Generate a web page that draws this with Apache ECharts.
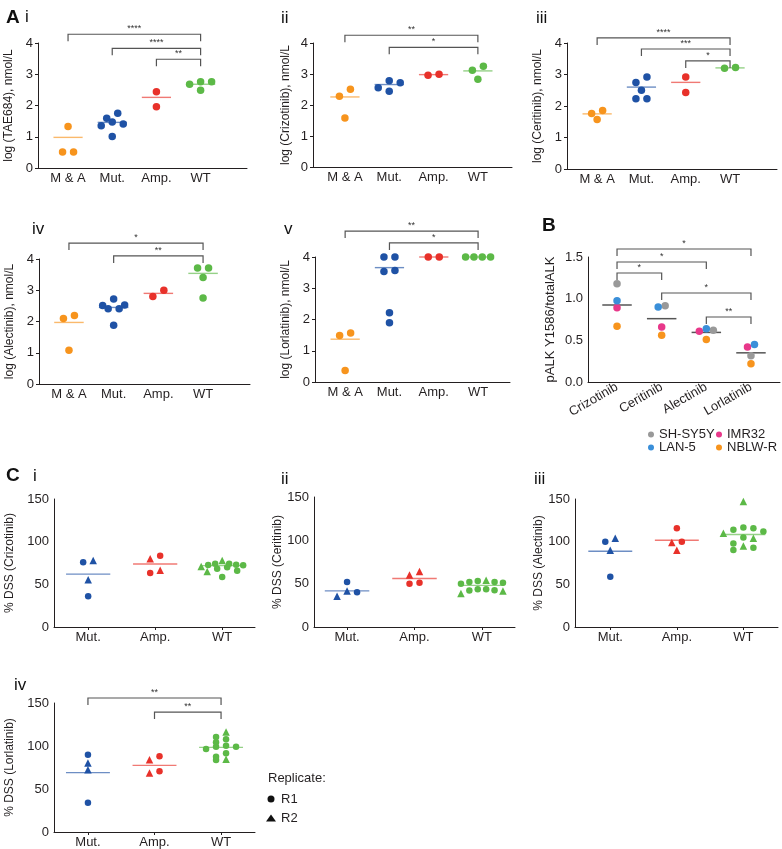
<!DOCTYPE html>
<html>
<head>
<meta charset="utf-8">
<script src="https://cdn.jsdelivr.net/npm/echarts@6/dist/echarts.min.js"></script>
<style>
html, body { margin: 0; padding: 0; background: #fff; }
#chart { width: 782px; height: 849px; }
</style>
</head>
<body>
<div id="chart"></div>
<script>
// ---- data: panel A (log IC50 per ALK status group) ----
const groupsA = ['M & A', 'Mut.', 'Amp.', 'WT']
const colorsA = ['#f7941d', '#1f52a5', '#e8312a', '#5cb947']

const tae684 = [[1.33, 0.51, 0.51], [1.75, 1.59, 1.47, 1.41, 1.35, 1.01], [2.44, 1.96], [2.76, 2.68, 2.76, 2.49]]
const tae684Mid = [0.98, 1.46, 2.26, 2.68]
const tae684Sig = [[0, 3, 4.28, '****'], [1, 3, 3.83, '****'], [2, 3, 3.48, '**']]

const crizotinibA = [[2.51, 2.28, 1.58], [2.72, 2.78, 2.44, 2.56], [2.96, 2.99], [3.25, 3.12, 2.83]]
const crizotinibAMid = [2.26, 2.66, 2.98, 3.10]
const crizotinibASig = [[0, 3, 4.25, '**'], [1, 3, 3.86, '*']]

const ceritinibA = [[1.86, 1.76, 1.57], [2.92, 2.75, 2.50, 2.23, 2.23], [2.92, 2.43], [3.20, 3.22]]
const ceritinibAMid = [1.75, 2.60, 2.75, 3.21]
const ceritinibASig = [[0, 3, 4.16, '****'], [1, 3, 3.81, '***'], [2, 3, 3.43, '*']]

const alectinibA = [[2.19, 2.10, 1.08], [2.72, 2.53, 2.41, 2.51, 2.41, 1.88], [3.0, 2.8], [3.71, 3.71, 3.41, 2.75]]
const alectinibAMid = [1.97, 2.45, 2.90, 3.54]
const alectinibASig = [[0, 3, 4.51, '*'], [1, 3, 4.10, '**']]

const lorlatinibA = [[1.57, 1.49, 0.37], [4.0, 4.0, 3.54, 3.57, 2.22, 1.90], [4.0, 4.0], [4.0, 4.0, 4.0, 4.0]]
const lorlatinibAMid = [1.37, 3.66, 4.0, 4.0]
const lorlatinibASig = [[0, 3, 4.83, '**'], [1, 3, 4.45, '*']]

// ---- data: panel B (pALK / total ALK per drug) ----
const drugsB = ['Crizotinib', 'Ceritinib', 'Alectinib', 'Lorlatinib']
const cellLines = ['SH-SY5Y', 'IMR32', 'LAN-5', 'NBLW-R']
const cellColors = ['#999999', '#e8388a', '#3a8fd9', '#f7941d']
const pALK_SHSY5Y = [1.18, 0.915, 0.62, 0.315]
const pALK_IMR32 = [0.89, 0.66, 0.61, 0.42]
const pALK_LAN5 = [0.975, 0.90, 0.64, 0.45]
const pALK_NBLWR = [0.67, 0.56, 0.51, 0.22]
const pALKMid = [0.924, 0.76, 0.595, 0.35]
const pALKSig = [[0, 3, 1.596, '*'], [0, 2, 1.44, '*'], [0, 1, 1.308, '*'], [1, 3, 1.068, '*'], [2, 3, 0.78, '**']]

// ---- data: panel C (% DSS, replicate R1 / R2) ----
const groupsC = ['Mut.', 'Amp.', 'WT']
const colorsC = ['#1f52a5', '#e8312a', '#5cb947']

const dssCrizR1 = [[76, 36], [83.6, 63.3], [72.3, 73, 70, 74, 74, 72.7, 66, 68.4, 58.6]]
const dssCrizR2 = [[78, 55.5], [80, 66.4], [71, 78, 65]]
const dssCrizMid = [62, 73.8, 71.9]

const dssCeriR1 = [[51.8, 40.2], [50, 51], [51.8, 53, 51, 52, 49.9, 42, 43.7, 43.7, 42.5]]
const dssCeriR2 = [[35.6, 41.4], [60, 64], [54, 41.4, 38.7]]
const dssCeriMid = [41.7, 56, 48]

const dssAlecR1 = [[100, 59], [115.8, 100], [113.9, 112, 115.8, 116.6, 104.8, 97.8, 90.3, 93]]
const dssAlecR2 = [[104, 90], [99, 90], [147, 110, 104, 95]]
const dssAlecMid = [88.7, 101.7, 108.4]

const dssLorlR1 = [[89.9, 34.1], [88, 70.5], [107.8, 110.5, 99.2, 99.2, 100.4, 104.3, 91.5, 96.5, 83.7, 87.6]]
const dssLorlR2 = [[80.2, 72.5], [84, 68.6], [116.3, 84.5]]
const dssLorlMid = [69, 77.5, 98.4]
const dssLorlSig = [[0, 2, 155.8, '**'], [1, 2, 139.5, '**']]

// ---- build ----
const font = 'Liberation Sans, Arial, Helvetica, sans-serif'
const ink = '#231f20'
const chart = echarts.init(document.getElementById('chart'))

const grid = [], xAxis = [], yAxis = [], series = []

// simple dot-plot spreading: points close in y share a row, centred on the category
function swarm(points, pxPerUnit, diam, step, maxSpan) {
  const order = points.map((p, i) => i).sort((a, b) => points[b].v - points[a].v)
  const off = new Array(points.length).fill(0)
  let k = 0
  while (k < order.length) {
    const row = [order[k]]
    const top = points[order[k]].v
    let j = k + 1
    while (j < order.length && (top - points[order[j]].v) * pxPerUnit < diam) { row.push(order[j]); j++ }
    const n = row.length
    const s = n > 1 ? Math.min(step, maxSpan / (n - 1)) : 0
    const slots = []
    for (let i = 0; i < n; i++) slots.push((i - (n - 1) / 2) * s)
    slots.sort((a, b) => Math.abs(a) - Math.abs(b) || b - a)
    row.forEach((idx, i) => { off[idx] = slots[i] })
    k = j
  }
  return off
}

function addPanel(p) {
  const gi = grid.length
  const [left, top, width, height] = p.box
  grid.push({ left, top, width, height })
  const ticks = p.cats.map((c, i) => i)
  xAxis.push({
    type: 'value', gridIndex: gi, min: p.x[0], max: p.x[1],
    axisLine: { onZero: false, lineStyle: { color: ink, width: 1 } },
    axisTick: { show: !!p.xTick, customValues: ticks, length: 3, lineStyle: { color: ink } },
    axisLabel: {
      customValues: ticks, formatter: v => p.cats[Math.round(v)],
      color: ink, fontSize: 13, fontFamily: font, margin: 4, rotate: p.rotate || 0
    },
    splitLine: { show: false }
  })
  yAxis.push({
    type: 'value', gridIndex: gi, min: p.y[0], max: p.y[1], interval: p.y[2],
    name: p.name, nameLocation: 'middle', nameGap: p.gap, nameRotate: 90,
    nameTextStyle: { color: ink, fontSize: p.nameSize || 12, fontFamily: font },
    axisLine: { show: true, onZero: false, lineStyle: { color: ink } },
    axisTick: { show: !!p.yTick, length: 3, lineStyle: { color: ink } },
    axisLabel: { color: ink, fontSize: 13, fontFamily: font, margin: 5, formatter: p.yFmt },
    splitLine: { show: false }
  })

  // points, spread within each category
  const pxPerX = width / (p.x[1] - p.x[0])
  const pxPerY = height / (p.y[1] - p.y[0])
  const bySeries = {}
  p.cats.forEach((c, g) => {
    const pts = p.points.filter(q => q.g === g)
    const off = swarm(pts, pxPerY, p.diam, p.step, p.span)
    pts.forEach((q, i) => {
      if (!bySeries[q.name]) bySeries[q.name] = { symbol: q.symbol, size: q.size, color: q.color, data: [] }
      bySeries[q.name].data.push({ value: [g + off[i] / pxPerX, q.v], itemStyle: { color: q.color } })
    })
  })
  Object.keys(bySeries).forEach(name => {
    const s = bySeries[name]
    series.push({
      type: 'scatter', name, xAxisIndex: gi, yAxisIndex: gi, clip: false,
      symbol: s.symbol, symbolSize: s.size, itemStyle: { color: p.legendInk ? '#111' : s.color, opacity: 1 },
      data: s.data, z: 3, silent: true
    })
  })

  // centre lines
  series.push({
    type: 'custom', xAxisIndex: gi, yAxisIndex: gi, z: 2, silent: true,
    encode: { x: 0, y: 1 },
    data: p.mid.map((v, i) => [i, v]),
    renderItem: (params, api) => {
      const c = api.value(0), v = api.value(1)
      const a = api.coord([c - 0.33, v]), b = api.coord([c + 0.33, v])
      return {
        type: 'line', shape: { x1: a[0], y1: a[1], x2: b[0], y2: b[1] },
        style: { stroke: p.midColors[c], lineWidth: p.midWidth || 1.4, opacity: p.midOpacity || 0.65 }
      }
    }
  })

  // significance brackets
  if (p.sig) {
    series.push({
      type: 'custom', xAxisIndex: gi, yAxisIndex: gi, z: 2, silent: true,
      encode: { x: [0, 1], y: 2 },
      data: p.sig.map(s => [s[0], s[1], s[2]]),
      renderItem: (params, api) => {
        const y = api.value(2)
        const a = api.coord([api.value(0), y]), b = api.coord([api.value(1), y])
        const drop = 7
        return {
          type: 'group', children: [
            { type: 'polyline', shape: { points: [[a[0], a[1] + drop], a, b, [b[0], b[1] + drop]] },
              style: { stroke: '#555', lineWidth: 1.2, fill: 'none' } },
            { type: 'text', x: (a[0] + b[0]) / 2, y: a[1] - 1,
              style: { text: p.sig[params.dataIndex][3], fill: '#333', fontSize: 9, fontFamily: font, align: 'center', verticalAlign: 'bottom' } }
          ]
        }
      }
    })
  }
}

function pointsA(vals) {
  const out = []
  vals.forEach((arr, g) => arr.forEach(v => out.push({ g, v, name: groupsA[g], color: colorsA[g], symbol: 'circle', size: 7.5 })))
  return out
}
function pointsC(r1, r2) {
  const out = []
  r1.forEach((arr, g) => arr.forEach(v => out.push({ g, v, name: 'R1', color: colorsC[g], symbol: 'circle', size: 6.5 })))
  r2.forEach((arr, g) => arr.forEach(v => out.push({ g, v, name: 'R2', color: colorsC[g], symbol: 'triangle', size: 7.5 })))
  return out
}
function pointsB() {
  const out = []
  const sets = [pALK_SHSY5Y, pALK_IMR32, pALK_LAN5, pALK_NBLWR]
  sets.forEach((arr, c) => arr.forEach((v, g) => out.push({ g, v, name: cellLines[c], color: cellColors[c], symbol: 'circle', size: 7.5 })))
  return out
}

const baseA = { cats: groupsA, y: [0, 4, 1], yTick: true, midColors: colorsA, diam: 8, step: 11, span: 25 }
addPanel(Object.assign({}, baseA, { box: [38, 43, 209, 125], x: [-0.68, 4.05], name: 'log (TAE684), nmol/L', gap: 23, points: pointsA(tae684), mid: tae684Mid, sig: tae684Sig }))
addPanel(Object.assign({}, baseA, { box: [313, 43, 199, 124], x: [-0.72, 3.77], name: 'log (Crizotinib), nmol/L', gap: 21, points: pointsA(crizotinibA), mid: crizotinibAMid, sig: crizotinibASig }))
addPanel(Object.assign({}, baseA, { box: [567, 43, 210, 126], x: [-0.68, 4.06], name: 'log (Ceritinib), nmol/L', gap: 23, points: pointsA(ceritinibA), mid: ceritinibAMid, sig: ceritinibASig }))
addPanel(Object.assign({}, baseA, { box: [39, 259, 211, 125], x: [-0.67, 4.05], name: 'log (Alectinib), nmol/L', gap: 23, points: pointsA(alectinibA), mid: alectinibAMid, sig: alectinibASig }))
addPanel(Object.assign({}, baseA, { box: [315, 257, 195, 125], x: [-0.68, 3.72], name: 'log (Lorlatinib), nmol/L', gap: 23, points: pointsA(lorlatinibA), mid: lorlatinibAMid, sig: lorlatinibASig }))

addPanel({
  cats: drugsB, y: [0, 1.5, 0.5], yFmt: v => v.toFixed(1), box: [588, 257, 192, 125], x: [-0.65, 3.65],
  name: 'pALK Y1586/totalALK', nameSize: 13, gap: 31, rotate: 30, points: pointsB(), mid: pALKMid,
  midColors: ['#555', '#555', '#555', '#555'], midOpacity: 1, midWidth: 1.5, sig: pALKSig, diam: 7, step: 7, span: 22
})

const baseC = { cats: groupsC, y: [0, 150, 50], xTick: true, midColors: colorsC, diam: 6, step: 10, span: 42, legendInk: true }
addPanel(Object.assign({}, baseC, { box: [54, 499, 201, 128], x: [-0.51, 2.49], name: '% DSS (Crizotinib)', gap: 38, points: pointsC(dssCrizR1, dssCrizR2), mid: dssCrizMid }))
addPanel(Object.assign({}, baseC, { box: [314, 497, 201, 130], x: [-0.49, 2.49], name: '% DSS (Ceritinib)', gap: 29, points: pointsC(dssCeriR1, dssCeriR2), mid: dssCeriMid }))
addPanel(Object.assign({}, baseC, { box: [575, 499, 203, 128], x: [-0.53, 2.52], name: '% DSS (Alectinib)', gap: 27, points: pointsC(dssAlecR1, dssAlecR2), mid: dssAlecMid }))
addPanel(Object.assign({}, baseC, { box: [54, 703, 201, 129], x: [-0.51, 2.51], name: '% DSS (Lorlatinib)', gap: 38, points: pointsC(dssLorlR1, dssLorlR2), mid: dssLorlMid, sig: dssLorlSig }))

// panel letters / numerals
const bold = { fontSize: 19, fontWeight: 'bold', color: '#111', fontFamily: font }
const roman = { fontSize: 17, fontWeight: 'normal', color: '#111', fontFamily: font }
const title = [
  { text: 'A', left: 1, top: 3, textStyle: bold },
  { text: 'i', left: 20, top: 4, textStyle: roman },
  { text: 'ii', left: 276, top: 5, textStyle: roman },
  { text: 'iii', left: 531, top: 5, textStyle: roman },
  { text: 'iv', left: 27, top: 216, textStyle: roman },
  { text: 'v', left: 279, top: 216, textStyle: roman },
  { text: 'B', left: 537, top: 211, textStyle: bold },
  { text: 'C', left: 1, top: 461, textStyle: bold },
  { text: 'i', left: 28, top: 463, textStyle: roman },
  { text: 'ii', left: 276, top: 466, textStyle: roman },
  { text: 'iii', left: 529, top: 466, textStyle: roman },
  { text: 'iv', left: 9, top: 672, textStyle: roman },
  { text: 'Replicate:', left: 263, top: 767, textStyle: { fontSize: 13, fontWeight: 'normal', color: ink, fontFamily: font } }
]

const legendText = { fontSize: 13, color: ink, fontFamily: font, lineHeight: 13 }
const legend = [
  { data: ['SH-SY5Y', 'LAN-5'], left: 643, top: 423, orient: 'vertical', icon: 'circle', itemWidth: 6, itemHeight: 6, itemGap: 0, textStyle: legendText, selectedMode: false },
  { data: ['IMR32', 'NBLW-R'], left: 711, top: 423, orient: 'vertical', icon: 'circle', itemWidth: 6, itemHeight: 6, itemGap: 0, textStyle: legendText, selectedMode: false },
  {
    data: [{ name: 'R1', icon: 'circle' }, { name: 'R2', icon: 'triangle' }],
    left: 261, top: 787, orient: 'vertical', itemWidth: 10, itemHeight: 7, itemGap: 5,
    itemStyle: { color: '#111' }, textStyle: Object.assign({}, legendText, { lineHeight: 14 }), selectedMode: false
  }
]

chart.setOption({
  backgroundColor: '#fff',
  animation: false,
  title, legend, grid, xAxis, yAxis, series
})
</script>
</body>
</html>
